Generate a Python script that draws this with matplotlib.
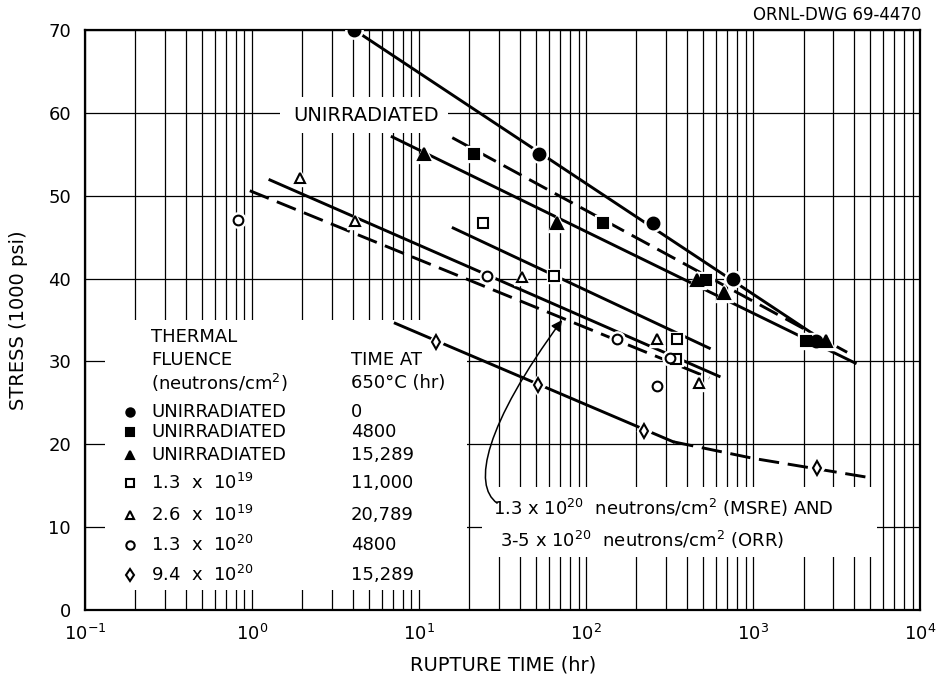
import matplotlib
matplotlib.use("Agg")
import matplotlib.pyplot as plt
from matplotlib.patches import Rectangle, FancyArrowPatch
from matplotlib.path import Path
from matplotlib.ticker import LogLocator, NullFormatter

# unirradiated, 0 hr at 650 C (filled circles)
t_unirr_0 = [4.1, 52, 250, 760, 2380]
s_unirr_0 = [70, 55, 46.7, 40, 32.5]
fit_unirr_0_t = [4.1, 2250]
fit_unirr_0_s = [70, 33.4]

# unirradiated, 4800 hr (filled squares)
t_unirr_4800 = [21.3, 126, 520, 2075]
s_unirr_4800 = [55, 46.7, 39.8, 32.5]
fit_unirr_4800_t = [15.8, 3650]
fit_unirr_4800_s = [57.0, 31.1]

# unirradiated, 15289 hr (filled triangles)
t_unirr_15289 = [10.7, 67, 462, 670, 2735]
s_unirr_15289 = [55, 46.7, 39.8, 38.3, 32.5]
fit_unirr_15289_t = [6.9, 4080]
fit_unirr_15289_s = [57.1, 29.8]

# 1.3e19 (open squares)
t_13e19 = [24.2, 64, 351, 346]
s_13e19 = [46.7, 40.3, 32.7, 30.3]
fit_13e19_t = [16, 546]
fit_13e19_s = [46.1, 31.6]

# 2.6e19 (open triangles)
t_26e19 = [1.94, 4.14, 41.4, 266, 475]
s_26e19 = [52.1, 46.9, 40.2, 32.7, 27.4]
fit_26e19_t = [1.28, 625]
fit_26e19_s = [51.9, 28.2]

# 1.3e20 (open circles)
t_13e20 = [0.82, 25.5, 153, 316, 266]
s_13e20 = [47.1, 40.3, 32.7, 30.4, 27.0]
fit_13e20_t = [0.97, 546]
fit_13e20_s = [50.6, 28.0]

# 9.4e20 (open diamonds)
t_94e20 = [12.6, 51.6, 222, 2415]
s_94e20 = [32.3, 27.2, 21.6, 17.1]
fit_94e20_t = [7.2, 332]
fit_94e20_s = [34.6, 20.3]
ext_94e20_t = [332, 1000, 4890]
ext_94e20_s = [20.3, 18.3, 16.0]

legend_fluence = ["UNIRRADIATED", "UNIRRADIATED", "UNIRRADIATED",
                  r"1.3  x  10$^{19}$", r"2.6  x  10$^{19}$",
                  r"1.3  x  10$^{20}$", r"9.4  x  10$^{20}$"]
legend_time = ["0", "4800", "15,289", "11,000", "20,789", "4800", "15,289"]

FS = 13
DASH = (0, (7, 3))

fig = plt.figure(figsize=(9.38, 6.78), dpi=100)
ax = fig.add_axes([0.0906, 0.1003, 0.8905, 0.8555])
ax.set_xscale("log")
ax.set_xlim(0.1, 1e4)
ax.set_ylim(0, 70)
ax.set_yticks(range(0, 71, 10))
ax.xaxis.set_minor_locator(LogLocator(base=10, subs=range(2, 10), numticks=20))
ax.xaxis.set_minor_formatter(NullFormatter())
ax.set_axisbelow(True)
ax.grid(True, which="both", axis="x", color="black", linewidth=0.9)
ax.grid(True, which="major", axis="y", color="black", linewidth=0.9)
ax.tick_params(which="both", length=0, labelsize=FS, pad=10)
for sp in ax.spines.values():
    sp.set_linewidth(1.6)

# white patches cut through the grid
for (x0, y0, w, h) in [(0.024, 0.0345, 0.433, 0.4655), (0.475, 0.091, 0.473, 0.121),
                       (0.2335, 0.822, 0.2015, 0.062)]:
    ax.add_patch(Rectangle((x0, y0), w, h, transform=ax.transAxes,
                           facecolor="white", edgecolor="none", zorder=1))

def fit(t, s, ls="-"):
    ax.plot(t, s, color="black", linewidth=2.1, linestyle=ls, zorder=2)

def pts(t, s, marker, filled, ms):
    ax.plot(t, s, linestyle="none", marker=marker, markersize=ms + 4,
            color="white", zorder=3)
    ax.plot(t, s, linestyle="none", marker=marker, markersize=ms,
            markerfacecolor="black" if filled else "white",
            markeredgecolor="black", markeredgewidth=1.5, zorder=4)

fit(fit_unirr_0_t, fit_unirr_0_s)
fit(fit_unirr_4800_t, fit_unirr_4800_s, DASH)
fit(fit_unirr_15289_t, fit_unirr_15289_s)
fit(fit_13e19_t, fit_13e19_s)
fit(fit_26e19_t, fit_26e19_s)
fit(fit_13e20_t, fit_13e20_s, DASH)
fit(fit_94e20_t, fit_94e20_s)
fit(ext_94e20_t, ext_94e20_s, DASH)

pts(t_unirr_0, s_unirr_0, "o", True, 8.5)
pts(t_unirr_4800, s_unirr_4800, "s", True, 7.5)
pts(t_unirr_15289, s_unirr_15289, "^", True, 8.5)
pts(t_13e19, s_13e19, "s", False, 6.5)
pts(t_26e19, s_26e19, "^", False, 7.5)
pts(t_13e20, s_13e20, "o", False, 7)
pts(t_94e20, s_94e20, "d", False, 7.5)

ax.text(0.3365, 0.852, "UNIRRADIATED", transform=ax.transAxes, fontsize=14,
        ha="center", va="center", zorder=5)

# legend block
ax.text(0.079, 0.471, "THERMAL", transform=ax.transAxes, fontsize=FS, va="center")
ax.text(0.079, 0.431, "FLUENCE", transform=ax.transAxes, fontsize=FS, va="center")
ax.text(0.079, 0.391, "(neutrons/cm$^2$)", transform=ax.transAxes, fontsize=FS, va="center")
ax.text(0.3186, 0.431, "TIME AT", transform=ax.transAxes, fontsize=FS, va="center")
ax.text(0.3186, 0.391, "650°C (hr)", transform=ax.transAxes, fontsize=FS, va="center")
row_y = [0.341, 0.307, 0.267, 0.219, 0.164, 0.112, 0.060]
leg_markers = [("o", True), ("s", True), ("^", True), ("s", False),
               ("^", False), ("o", False), ("d", False)]
for y, (m, filled), lab, tm in zip(row_y, leg_markers, legend_fluence, legend_time):
    ax.plot([0.054], [y], transform=ax.transAxes, marker=m, markersize=6,
            markerfacecolor="black" if filled else "white",
            markeredgecolor="black", markeredgewidth=1.5, linestyle="none", zorder=5)
    ax.text(0.079, y, lab, transform=ax.transAxes, fontsize=FS, va="center")
    ax.text(0.3186, y, tm, transform=ax.transAxes, fontsize=FS, va="center")

# annotation for the 1.3e20 / 3-5e20 dashed line
ax.text(0.489, 0.176, r"1.3 x 10$^{20}$  neutrons/cm$^2$ (MSRE) AND",
        transform=ax.transAxes, fontsize=FS, va="center")
ax.text(0.497, 0.121, r"3-5 x 10$^{20}$  neutrons/cm$^2$ (ORR)",
        transform=ax.transAxes, fontsize=FS, va="center")
hook = Path([(29.3, 12.9), (20.7, 15.1), (24.8, 22.3), (71.8, 35.0)],
            [Path.MOVETO, Path.CURVE4, Path.CURVE4, Path.CURVE4])
ax.add_patch(FancyArrowPatch(path=hook, arrowstyle="-|>", color="black", lw=1.1,
                             mutation_scale=16, transform=ax.transData, zorder=5))

ax.set_xlabel("RUPTURE TIME (hr)", fontsize=14, labelpad=8)
ax.set_ylabel("STRESS (1000 psi)", fontsize=14)
ax.yaxis.set_label_coords(-0.068, 0.5)
fig.text(0.982, 0.978, "ORNL-DWG 69-4470", fontsize=12, ha="right", va="center")

fig.savefig("out.png", dpi=100)
